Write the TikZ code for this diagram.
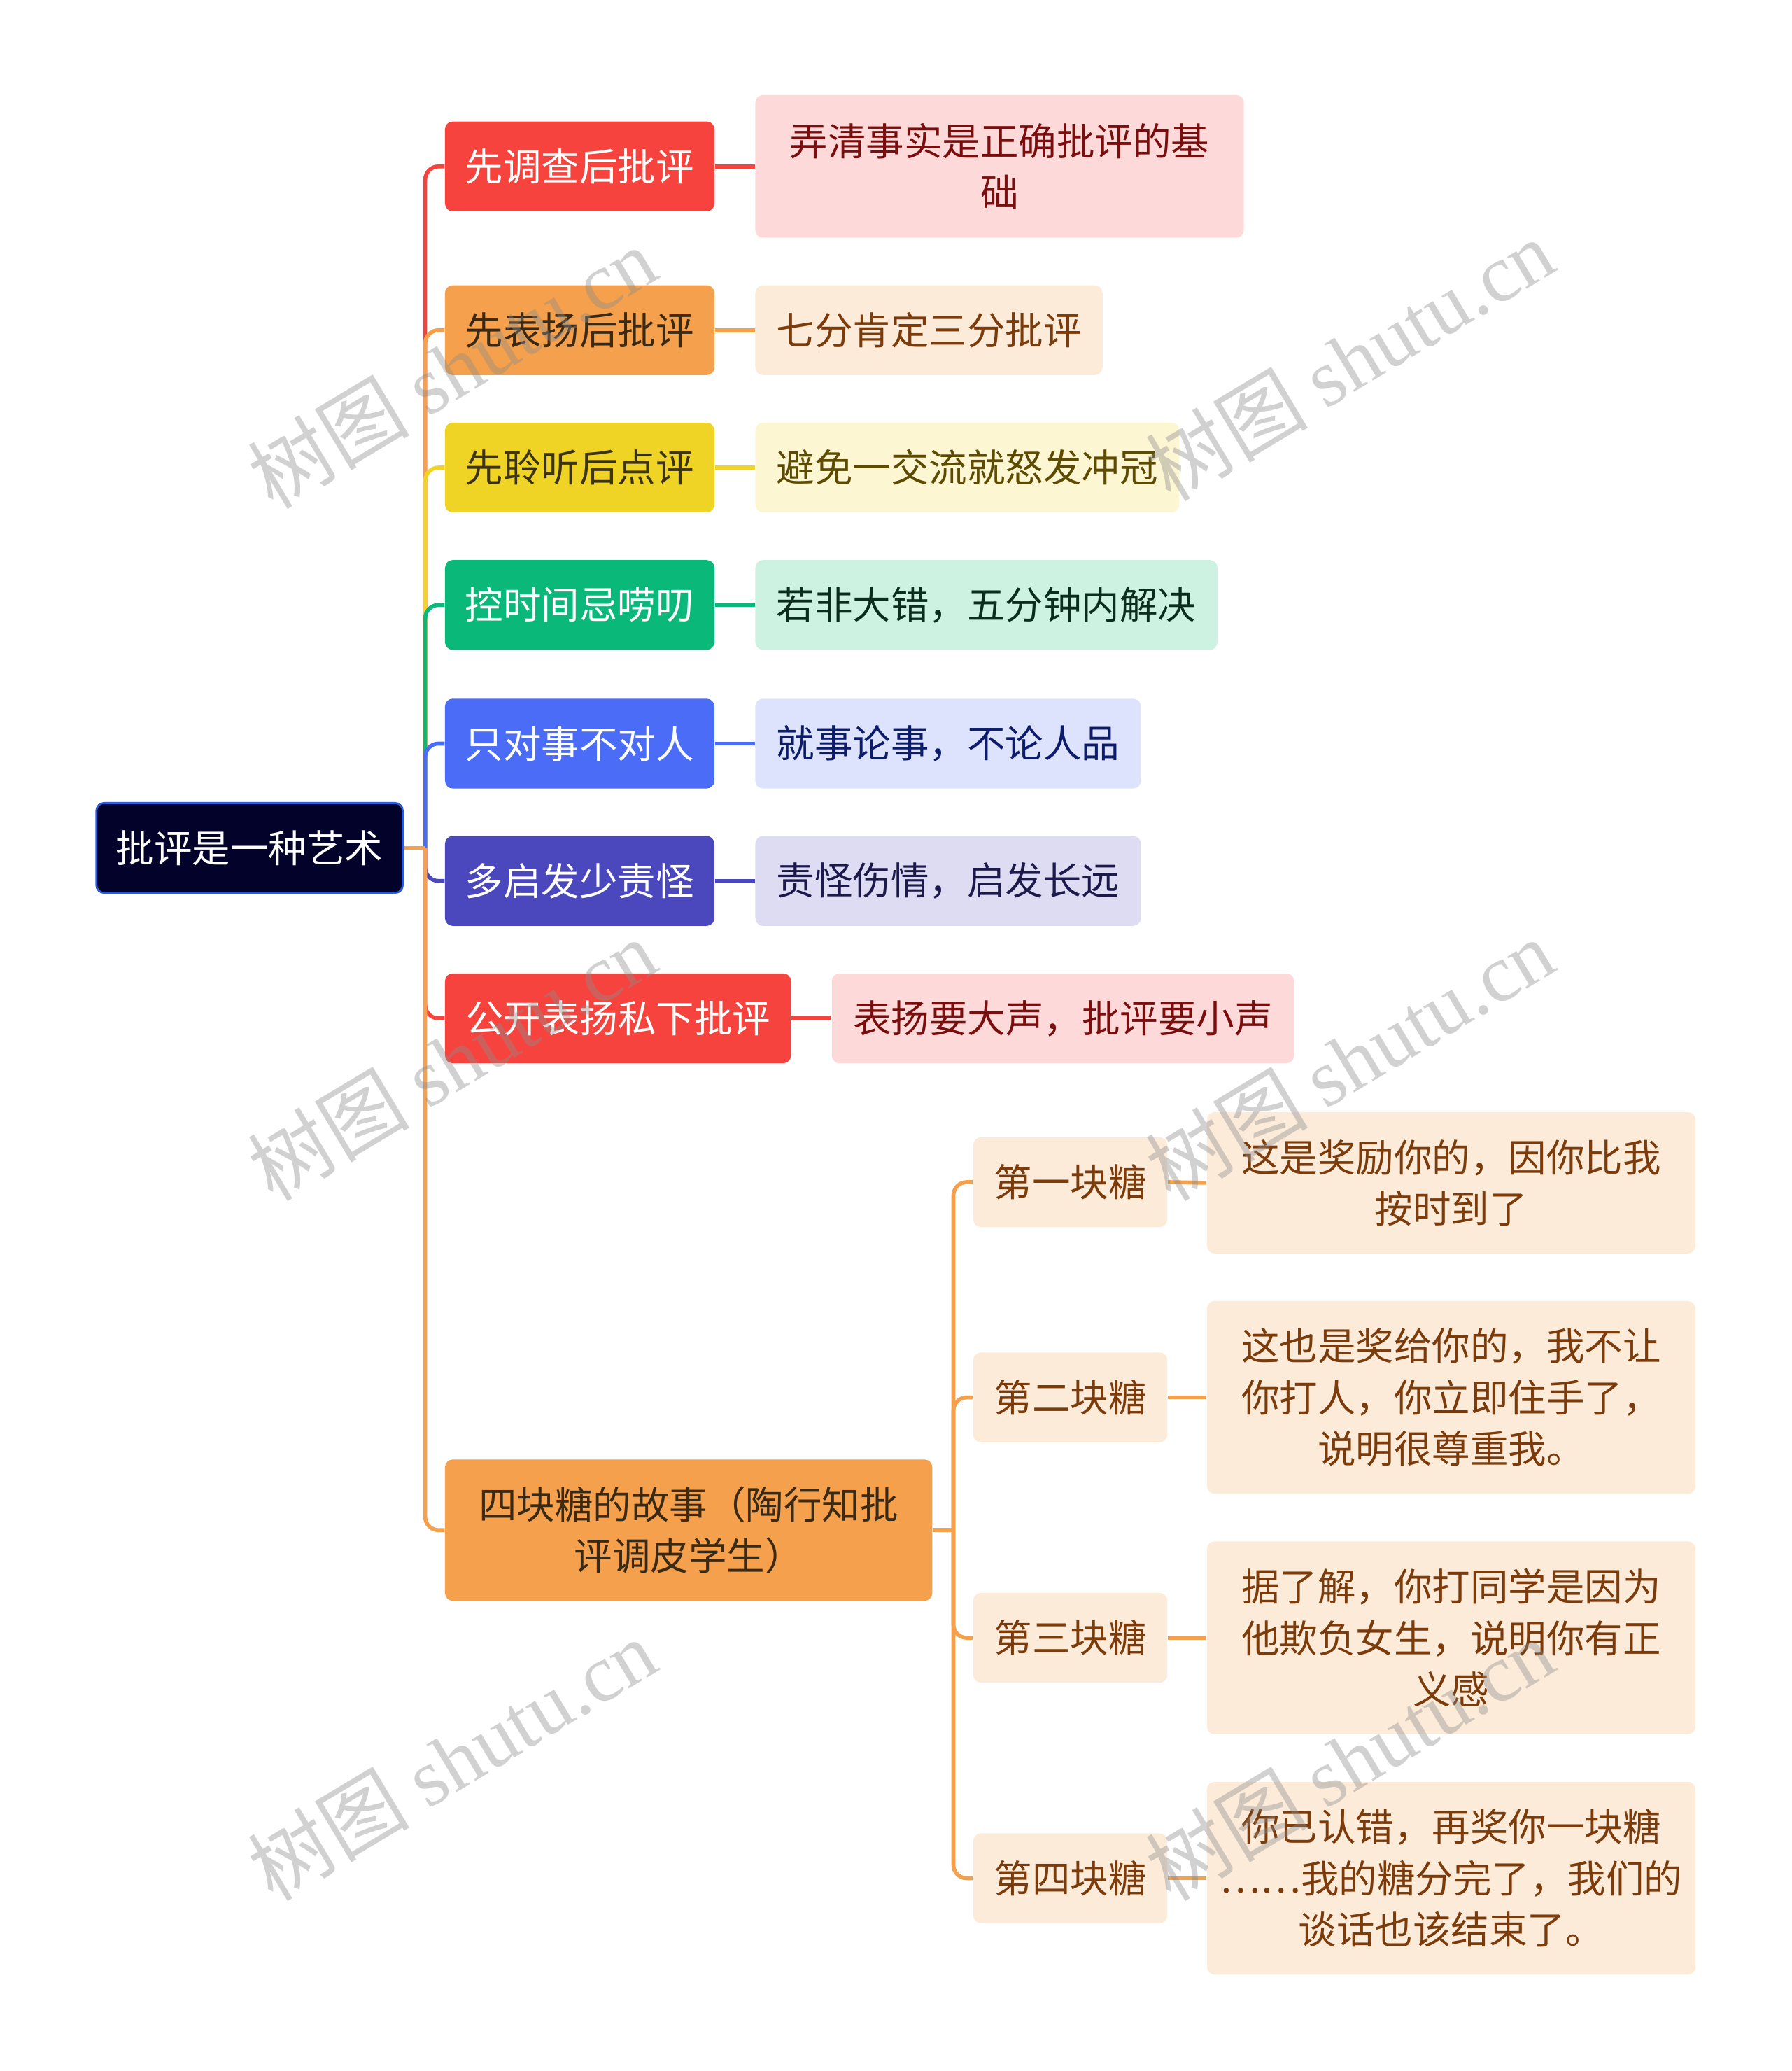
\documentclass[tikz,border=0pt]{standalone}
\usepackage{fontspec}
\setmainfont{Noto Sans CJK SC}
\newfontfamily\cjk{Noto Sans CJK SC}
\newfontfamily\wmlatin{Liberation Serif}
\def\U{0.018866cm}
\newcommand\fz{\fontsize{15.5pt}{20.9pt}\selectfont}
\definecolor{cRed}{HTML}{F6433D}
\definecolor{cOrange}{HTML}{F4A04C}
\definecolor{cYellow}{HTML}{EFD426}
\definecolor{cGreen}{HTML}{0AB979}
\definecolor{cBlue}{HTML}{4A6CF6}
\definecolor{cPurple}{HTML}{4B48BE}
\definecolor{cRoot}{HTML}{03022A}
\definecolor{cRootB}{HTML}{2D5BD8}
\definecolor{lPink}{HTML}{FDDAD9}
\definecolor{lPeach}{HTML}{FDEBDA}
\definecolor{lCream}{HTML}{FCF6D3}
\definecolor{lMint}{HTML}{CEF2E2}
\definecolor{lBlue}{HTML}{DDE3FD}
\definecolor{lLav}{HTML}{DEDCF3}
\definecolor{tPink}{HTML}{7A0E0E}
\definecolor{tPeach}{HTML}{7B3B0A}
\definecolor{tCream}{HTML}{5C4B00}
\definecolor{tMint}{HTML}{0B2D1E}
\definecolor{tBlue}{HTML}{0C1C6B}
\definecolor{tLav}{HTML}{1B1A4B}
\definecolor{tDark}{HTML}{3A2A14}
\definecolor{tDarkY}{HTML}{3B3312}
\tikzset{
  box/.style={rectangle, inner sep=0pt, align=center, font=\fz, rounded corners=0.11cm},
  sz/.style 2 args={minimum width=#1*\U, minimum height=#2*\U},
  conn/.style={line width=1.6pt},
  wm/.style={rotate=31, text=black!45, opacity=0.4, font=\fontsize{33pt}{36pt}\selectfont},
}
\begin{document}
\begin{tikzpicture}[x=0.018866cm, y=-0.018866cm]
\useasboundingbox (0,0) rectangle (1357,1568);

% root
\node[box, fill=cRoot, draw=cRootB, line width=0.8pt, text=white, sz={232}{68}] (root) at (189,642) {批评是一种艺术};

% level 1
\node[box, fill=cRed, text=white, sz={204}{68}] (c1) at (439,126) {先调查后批评};
\node[box, fill=cOrange, text=tDark, sz={204}{68}] (c2) at (439,250) {先表扬后批评};
\node[box, fill=cYellow, text=tDarkY, sz={204}{68}] (c3) at (439,354) {先聆听后点评};
\node[box, fill=cGreen, text=white, sz={204}{68}] (c4) at (439,458) {控时间忌唠叨};
\node[box, fill=cBlue, text=white, sz={204}{68}] (c5) at (439,563) {只对事不对人};
\node[box, fill=cPurple, text=white, sz={204}{68}] (c6) at (439,667) {多启发少责怪};
\node[box, fill=cRed, text=white, sz={262}{68}] (c7) at (468,771) {公开表扬私下批评};
\node[box, fill=cOrange, text=tDark, sz={369}{107}] (c8) at (521.5,1158.5) {四块糖的故事（陶行知批\\评调皮学生）};

% level 2
\node[box, fill=lPink, text=tPink, sz={370}{108}] (l1) at (757,126) {弄清事实是正确批评的基\\础};
\node[box, fill=lPeach, text=tPeach, sz={263}{68}] (l2) at (703.5,250) {七分肯定三分批评};
\node[box, fill=lCream, text=tCream, sz={321}{68}] (l3) at (732.5,354) {避免一交流就怒发冲冠};
\node[box, fill=lMint, text=tMint, sz={350}{68}] (l4) at (747,458) {若非大错，五分钟内解决};
\node[box, fill=lBlue, text=tBlue, sz={292}{68}] (l5) at (718,563) {就事论事，不论人品};
\node[box, fill=lLav, text=tLav, sz={292}{68}] (l6) at (718,667) {责怪伤情，启发长远};
\node[box, fill=lPink, text=tPink, sz={350}{68}] (l7) at (805,771) {表扬要大声，批评要小声};

% level 3
\node[box, fill=lPeach, text=tPeach, sz={147}{68}] (s1) at (810.5,895) {第一块糖};
\node[box, fill=lPeach, text=tPeach, sz={147}{68}] (s2) at (810.5,1058) {第二块糖};
\node[box, fill=lPeach, text=tPeach, sz={147}{68}] (s3) at (810.5,1240) {第三块糖};
\node[box, fill=lPeach, text=tPeach, sz={147}{68}] (s4) at (810.5,1422) {第四块糖};

\node[box, fill=lPeach, text=tPeach, sz={370}{107}] (t1) at (1099,895.5) {这是奖励你的，因你比我\\按时到了};
\node[box, fill=lPeach, text=tPeach, sz={370}{146}] (t2) at (1099,1058) {这也是奖给你的，我不让\\你打人，你立即住手了，\\说明很尊重我。};
\node[box, fill=lPeach, text=tPeach, sz={370}{146}] (t3) at (1099,1240) {据了解，你打同学是因为\\他欺负女生，说明你有正\\义感};
\node[box, fill=lPeach, text=tPeach, sz={370}{146}] (t4) at (1099,1422) {你已认错，再奖你一块糖\\……我的糖分完了，我们的\\谈话也该结束了。};

% connectors level 1
\coordinate (j0) at (322,642);
\foreach \n/\c in {c1/cRed, c2/cOrange, c3/cYellow, c4/cGreen, c5/cBlue, c6/cPurple, c7/cRed, c8/cOrange}{
  \draw[conn, draw=\c] (root.east) -- (j0);
  \draw[conn, draw=\c, rounded corners=0.19cm] (j0) |- (\n.west);
}
% level 2
\foreach \a/\b/\c in {c1/l1/cRed, c2/l2/cOrange, c3/l3/cYellow, c4/l4/cGreen, c5/l5/cBlue, c6/l6/cPurple, c7/l7/cRed}{
  \draw[conn, draw=\c] (\a.east) -- (\b.west);
}
% level 3
\coordinate (j8) at (722,1158.5);
\foreach \n in {s1,s2,s3,s4}{
  \draw[conn, draw=cOrange] (c8.east) -- (j8);
  \draw[conn, draw=cOrange, rounded corners=0.19cm] (j8) |- (\n.west);
}
\foreach \a/\b in {s1/t1, s2/t2, s3/t3, s4/t4}{
  \draw[conn, draw=cOrange] (\a.east) -- (\b.west);
}

% watermarks
\node[wm] (w1) at (342,278) {\cjk 树图 \wmlatin shutu.cn};
\node[wm] (w2) at (1022,272) {\cjk 树图 \wmlatin shutu.cn};
\node[wm] (w3) at (342,802) {\cjk 树图 \wmlatin shutu.cn};
\node[wm] (w4) at (1022,802) {\cjk 树图 \wmlatin shutu.cn};
\node[wm] (w5) at (342,1332) {\cjk 树图 \wmlatin shutu.cn};
\node[wm] (w6) at (1022,1332) {\cjk 树图 \wmlatin shutu.cn};
\end{tikzpicture}
\end{document}
